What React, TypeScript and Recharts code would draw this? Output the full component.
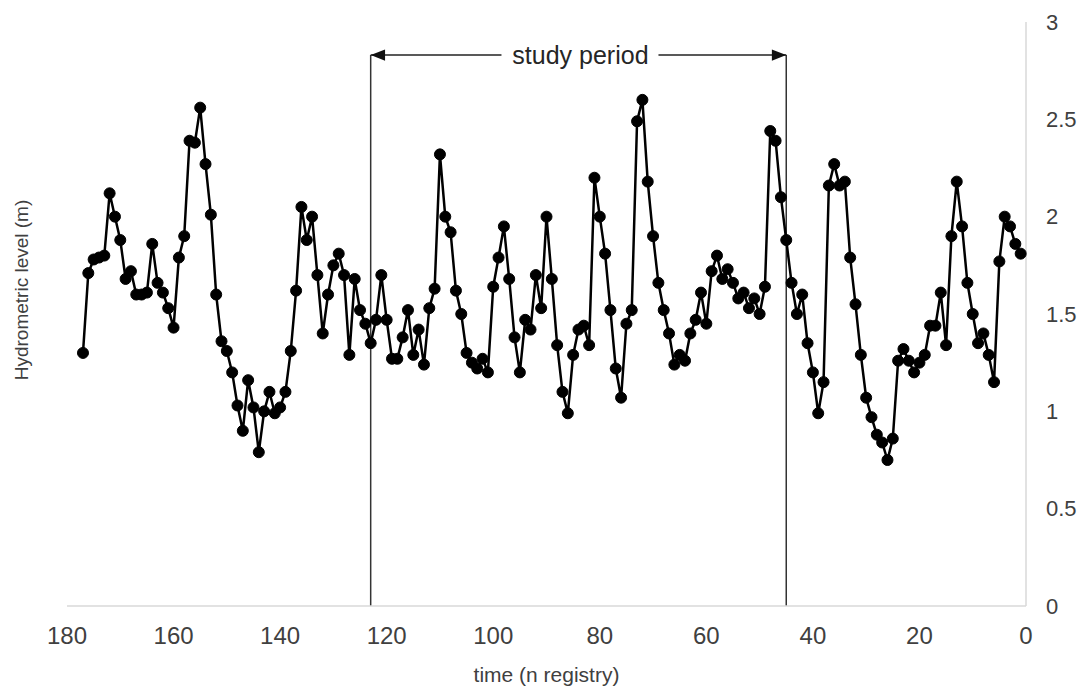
import { LineChart, Line, XAxis, YAxis, ReferenceLine } from 'recharts'

// registry index of the first (oldest) reading; readings then count down to 1
const FIRST_N = 177

// hydrometric level (m), from n = 177 down to n = 1
const levels = [
  1.30, 1.71, 1.78, 1.79, 1.80, 2.12, 2.00, 1.88, 1.68, 1.72,
  1.60, 1.60, 1.61, 1.86, 1.66, 1.61, 1.53, 1.43, 1.79, 1.90,
  2.39, 2.38, 2.56, 2.27, 2.01, 1.60, 1.36, 1.31, 1.20, 1.03,
  0.90, 1.16, 1.02, 0.79, 1.00, 1.10, 0.99, 1.02, 1.10, 1.31,
  1.62, 2.05, 1.88, 2.00, 1.70, 1.40, 1.60, 1.75, 1.81, 1.70,
  1.29, 1.68, 1.52, 1.45, 1.35, 1.47, 1.70, 1.47, 1.27, 1.27,
  1.38, 1.52, 1.29, 1.42, 1.24, 1.53, 1.63, 2.32, 2.00, 1.92,
  1.62, 1.50, 1.30, 1.25, 1.22, 1.27, 1.20, 1.64, 1.79, 1.95,
  1.68, 1.38, 1.20, 1.47, 1.42, 1.70, 1.53, 2.00, 1.68, 1.34,
  1.10, 0.99, 1.29, 1.42, 1.44, 1.34, 2.20, 2.00, 1.81, 1.52,
  1.22, 1.07, 1.45, 1.52, 2.49, 2.60, 2.18, 1.90, 1.66, 1.52,
  1.40, 1.24, 1.29, 1.26, 1.40, 1.47, 1.61, 1.45, 1.72, 1.80,
  1.68, 1.73, 1.66, 1.58, 1.61, 1.53, 1.58, 1.50, 1.64, 2.44,
  2.39, 2.10, 1.88, 1.66, 1.50, 1.60, 1.35, 1.20, 0.99, 1.15,
  2.16, 2.27, 2.16, 2.18, 1.79, 1.55, 1.29, 1.07, 0.97, 0.88,
  0.84, 0.75, 0.86, 1.26, 1.32, 1.26, 1.20, 1.25, 1.29, 1.44,
  1.44, 1.61, 1.34, 1.90, 2.18, 1.95, 1.66, 1.50, 1.35, 1.40,
  1.29, 1.15, 1.77, 2.00, 1.95, 1.86, 1.81,
]

const xTicks = [0, 20, 40, 60, 80, 100, 120, 140, 160, 180]
const yTicks = [0, 0.5, 1, 1.5, 2, 2.5, 3]

// study period bounds (registry index) and height of the bracket (m)
const studyStart = 123
const studyEnd = 45
const bracketLevel = 2.83

const data = levels.map((v, i) => ({ n: FIRST_N - i, level: v }))

const FONT = '"Liberation Sans", Arial, sans-serif'
const AXIS_GREY = '#d9d9d9'
const TEXT = '#404040'

function Bracket(props: any) {
  const { x1, x2, y1 } = props
  const left = Math.min(x1, x2)
  const right = Math.max(x1, x2)
  const mid = (left + right) / 2
  const gap = 80
  const a = 9
  return (
    <g>
      <line x1={left} y1={y1} x2={mid - gap + 3} y2={y1} stroke="#222" strokeWidth={1.5} />
      <line x1={mid + gap} y1={y1} x2={right} y2={y1} stroke="#222" strokeWidth={1.5} />
      <polygon points={`${left},${y1} ${left + a * 1.6},${y1 - a / 1.6} ${left + a * 1.6},${y1 + a / 1.6}`} fill="#111" />
      <polygon points={`${right},${y1} ${right - a * 1.6},${y1 - a / 1.6} ${right - a * 1.6},${y1 + a / 1.6}`} fill="#111" />
      <text x={mid + 2} y={y1} textAnchor="middle" dominantBaseline="central" fontSize={25} fontFamily={FONT} fill="#262626">
        study period
      </text>
    </g>
  )
}

export default function App() {
  return (
    <div style={{ position: 'absolute', left: 0, top: 0, width: 1088, height: 688, background: '#fff' }}>
      <LineChart width={1088} height={688} data={data} margin={{ top: 22, right: 0, left: 67, bottom: 0 }}>
        <XAxis
          dataKey="n"
          type="number"
          domain={[0, 180]}
          ticks={xTicks}
          reversed
          height={82}
          axisLine={{ stroke: AXIS_GREY, strokeWidth: 1.5 }}
          tickLine={false}
          tickMargin={15}
          tick={{ fill: TEXT, fontSize: 24, fontFamily: FONT }}
          label={{ value: 'time (n registry)', position: 'insideBottom', offset: 6, fill: TEXT, fontSize: 21, fontFamily: FONT }}
        />
        <YAxis
          orientation="right"
          type="number"
          domain={[0, 3]}
          ticks={yTicks}
          width={62}
          axisLine={{ stroke: AXIS_GREY, strokeWidth: 1.5 }}
          tickLine={false}
          tickMargin={14}
          tick={{ fill: TEXT, fontSize: 22, fontFamily: FONT, textAnchor: 'start' }}
        />
        <ReferenceLine
          segment={[{ x: studyStart, y: 0 }, { x: studyStart, y: bracketLevel }]}
          stroke="#333"
          strokeWidth={1.5}
        />
        <ReferenceLine
          segment={[{ x: studyEnd, y: 0 }, { x: studyEnd, y: bracketLevel }]}
          stroke="#333"
          strokeWidth={1.5}
        />
        <ReferenceLine
          segment={[{ x: studyStart, y: bracketLevel }, { x: studyEnd, y: bracketLevel }]}
          shape={Bracket}
        />
        <Line
          dataKey="level"
          stroke="#000"
          strokeWidth={2.5}
          dot={{ r: 5.5, fill: '#000', stroke: '#000', strokeWidth: 1 }}
          isAnimationActive={false}
        />
      </LineChart>
      <div
        style={{
          position: 'absolute',
          left: 22,
          top: 290,
          transform: 'translate(-50%, -50%) rotate(-90deg)',
          whiteSpace: 'nowrap',
          fontFamily: FONT,
          fontSize: 19,
          color: TEXT,
        }}
      >
        Hydrometric level (m)
      </div>
    </div>
  )
}
